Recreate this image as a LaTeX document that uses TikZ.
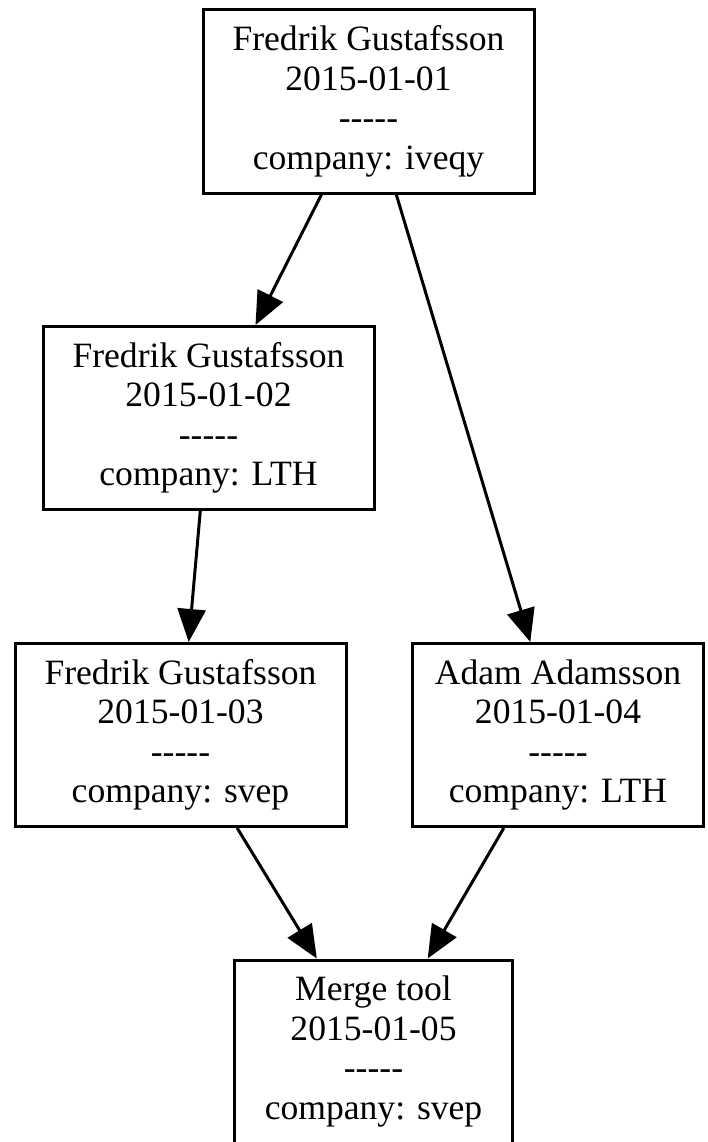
\documentclass[tikz,border=0pt]{standalone}
\usepackage{fontspec}
\setmainfont{Liberation Serif}
\usetikzlibrary{arrows.meta}
\tikzset{
  commitbox/.style={draw, line width=3pt, rectangle, inner sep=0pt,
    minimum height=183pt, align=center,
    font=\fontsize{35.6pt}{39.5pt}\selectfont},
  parentedge/.style={line width=3pt, -{Triangle[length=33pt,width=28pt]}}
}
\begin{document}
\begin{tikzpicture}[x=1pt,y=-1pt]
\useasboundingbox (0,0) rectangle (708,1142);
\node[commitbox, minimum width=331pt] (c1) at (368.5,101.5)
  {Fredrik Gustafsson\\2015-01-01\\-{}-{}-{}-{}-\\company: iveqy};
\node[commitbox, minimum width=331pt] (c2) at (208.5,418)
  {Fredrik Gustafsson\\2015-01-02\\-{}-{}-{}-{}-\\company: LTH};
\node[commitbox, minimum width=331pt] (c3) at (180.5,735)
  {Fredrik Gustafsson\\2015-01-03\\-{}-{}-{}-{}-\\company: svep};
\node[commitbox, minimum width=291pt] (c4) at (558,735)
  {Adam Adamsson\\2015-01-04\\-{}-{}-{}-{}-\\company: LTH};
\node[commitbox, minimum width=278pt] (c5) at (373.5,1051.5)
  {Merge tool\\2015-01-05\\-{}-{}-{}-{}-\\company: svep};
\draw[parentedge] (c1) -- (c2);
\draw[parentedge] (c1) -- (c4);
\draw[parentedge] (c2) -- (c3);
\draw[parentedge] (c3) -- (c5);
\draw[parentedge] (c4) -- (c5);
\end{tikzpicture}
\end{document}
